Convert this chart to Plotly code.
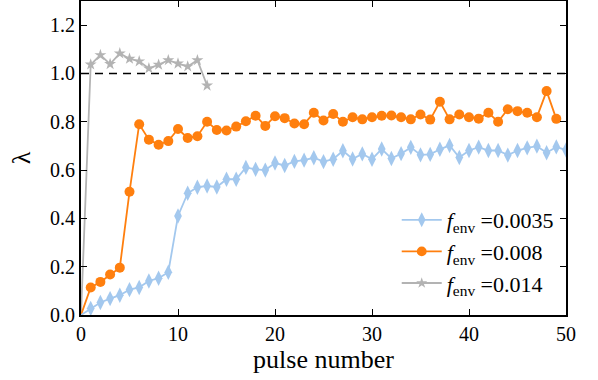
import plotly.graph_objects as go

pulse_blue = list(range(0, 51))
lam_blue = [0, 0.027, 0.052, 0.068, 0.082, 0.105, 0.114, 0.141, 0.152, 0.177,
            0.41, 0.504, 0.529, 0.534, 0.53, 0.562, 0.562, 0.611, 0.603, 0.60,
            0.629, 0.619, 0.636, 0.641, 0.651, 0.635, 0.645, 0.68, 0.646, 0.667,
            0.645, 0.687, 0.648, 0.668, 0.694, 0.663, 0.665, 0.686, 0.702, 0.652,
            0.681, 0.695, 0.681, 0.681, 0.662, 0.681, 0.692, 0.699, 0.672, 0.696,
            0.683]

pulse_orange = list(range(0, 50))
lam_orange = [0, 0.114, 0.137, 0.168, 0.196, 0.51, 0.79, 0.726, 0.705, 0.72,
              0.77, 0.733, 0.74, 0.80, 0.766, 0.764, 0.78, 0.802, 0.825, 0.783,
              0.823, 0.815, 0.793, 0.79, 0.837, 0.805, 0.832, 0.80, 0.819, 0.81,
              0.819, 0.825, 0.826, 0.819, 0.81, 0.83, 0.809, 0.883, 0.81, 0.83,
              0.819, 0.813, 0.837, 0.80, 0.852, 0.844, 0.837, 0.819, 0.927, 0.812]

pulse_grey = list(range(0, 14))
lam_grey = [0, 1.037, 1.076, 1.039, 1.083, 1.061, 1.05, 1.021, 1.036, 1.055,
            1.041, 1.029, 1.055, 0.95]

names = ["<i>f</i><sub>env</sub> =0.0035", "<i>f</i><sub>env</sub> =0.008",
         "<i>f</i><sub>env</sub> =0.014"]
ref_x = [0, 50]
ref_y = [1.0, 1.0]
x_ticks = [0, 10, 20, 30, 40, 50]
y_ticks = [0.0, 0.2, 0.4, 0.6, 0.8, 1.0, 1.2]

FONT = "Liberation Serif"

def sizes(n, s):
    return [0] + [s] * (n - 1)

fig = go.Figure()
fig.add_trace(go.Scatter(x=ref_x, y=ref_y, mode="lines", showlegend=False,
                         line=dict(color="black", width=1.5, dash="8px,6px"),
                         hoverinfo="skip"))
fig.add_trace(go.Scatter(x=pulse_grey, y=lam_grey, mode="lines+markers", name=names[2],
                         line=dict(color="#b3b3b3", width=1.8),
                         marker=dict(symbol="star", size=sizes(len(pulse_grey), 9),
                                     color="#b3b3b3", line=dict(width=0), opacity=1),
                         legendrank=3))
fig.add_trace(go.Scatter(x=pulse_orange, y=lam_orange, mode="lines+markers", name=names[1],
                         line=dict(color="#ff7f0e", width=1.8),
                         marker=dict(symbol="circle", size=sizes(len(pulse_orange), 10),
                                     color="#ff7f0e", line=dict(width=0), opacity=1),
                         legendrank=2))
fig.add_trace(go.Scatter(x=pulse_blue, y=lam_blue, mode="lines+markers", name=names[0],
                         line=dict(color="#a3c8ee", width=1.8),
                         marker=dict(symbol="diamond-tall", size=sizes(len(pulse_blue), 11),
                                     color="#a3c8ee", line=dict(width=0), opacity=1),
                         legendrank=1))

axis_common = dict(showline=True, linecolor="black", linewidth=2, mirror="ticks",
                   ticks="inside", ticklen=6, tickwidth=1.2, tickcolor="black",
                   showgrid=False, zeroline=False, automargin=False,
                   tickfont=dict(family=FONT, size=20, color="black"))

fig.update_xaxes(range=[0, 50], tickvals=x_ticks, ticktext=[str(v) for v in x_ticks],
                 title=dict(text="pulse number", font=dict(family=FONT, size=26, color="black"),
                            standoff=4),
                 **axis_common)
fig.update_yaxes(range=[0, 1.3], tickvals=y_ticks, ticktext=[f"{v:.1f}" for v in y_ticks],
                 title=dict(text="λ", font=dict(family=FONT, size=26, color="black"),
                            standoff=12),
                 **axis_common)

fig.update_layout(
    width=598, height=380,
    margin=dict(l=81, r=32, t=1, b=65),
    plot_bgcolor="white", paper_bgcolor="white",
    font=dict(family=FONT, color="black"),
    legend=dict(x=0.985, y=0.035, xanchor="right", yanchor="bottom",
                bgcolor="rgba(255,255,255,0)", borderwidth=0,
                font=dict(family=FONT, size=22, color="black"),
                itemwidth=40, tracegroupgap=0),
)

fig.write_html("out.html", config={"displayModeBar": False},
               post_script="document.body.style.margin='0';")
